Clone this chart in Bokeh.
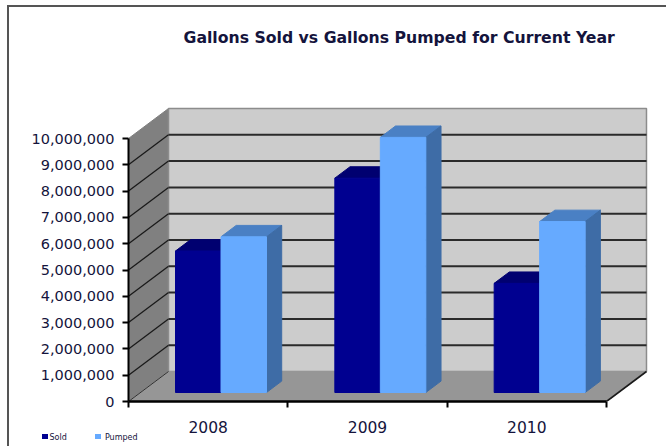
from bokeh.plotting import figure
from bokeh.models import LinearAxis, FixedTicker, Label, Range1d, Title, InlineStyleSheet
from bokeh.embed import file_html
from bokeh.resources import INLINE

years = ["2008", "2009", "2010"]
sold = [5380000, 8150000, 4150000]
pumped = [5920000, 9700000, 6500000]
y_ticks = list(range(0, 11000000, 1000000))
y_labels = ["0", "1,000,000", "2,000,000", "3,000,000", "4,000,000", "5,000,000",
            "6,000,000", "7,000,000", "8,000,000", "9,000,000", "10,000,000"]
series_names = ["Sold", "Pumped"]
title_text = "Gallons Sold vs Gallons Pumped for Current Year"

PXX = 159.33          # px per category
PXY = 26.3 / 1e6      # px per gallon
FW, FH = 538, 341
frame_css = InlineStyleSheet(css=""":host::before { content: ""; position: absolute; left: 7px; top: 5px;
  right: 0; bottom: 0; border-left: 2px solid #555555; border-top: 2px solid #555555;
  pointer-events: none; z-index: 20; }
:host::after { content: ""; position: absolute; left: 42px; top: 434px; width: 6px; height: 5px;
  background: #000090; box-shadow: 53px 0 0 #66aaff; pointer-events: none; z-index: 20; }""")
p = figure(width=666, height=446, output_backend="svg", toolbar_location=None,
           x_range=Range1d(0, FW / PXX), y_range=Range1d(0, FH / PXY),
           x_axis_type=None, y_axis_type=None,
           min_border_left=128, min_border_right=0, min_border_top=60, min_border_bottom=45,
           outline_line_color=None, background_fill_color="white", border_fill_color="white",
           stylesheets=[frame_css])
p.grid.visible = False

# oblique projection: depth d in 0..1 shifts right and up
DX = 40 / PXX
DY = 30 / PXY
def px(x, d=0.0): return x + d * DX
def py(y, d=0.0): return y + d * DY
TOP = y_ticks[-1]

# walls
p.patch([px(0), px(0, 1), px(0, 1), px(0)], [py(0), py(0, 1), py(TOP, 1), py(TOP)],
        fill_color="#808080", line_color="#808080")
p.patch([px(0, 1), px(3, 1), px(3, 1), px(0, 1)], [py(0, 1), py(0, 1), py(TOP, 1), py(TOP, 1)],
        fill_color="#cccccc", line_color="#8c8c8c", line_width=1.5)
p.patch([px(0), px(3), px(3, 1), px(0, 1)], [py(0), py(0), py(0, 1), py(0, 1)],
        fill_color="#969696", line_color="#969696")

# gridlines
for t in y_ticks[1:-1]:
    p.line([px(0), px(0, 1)], [py(t), py(t, 1)], line_color="#1a1a1a", line_width=1.3)
    p.line([px(0, 1), px(3, 1)], [py(t, 1), py(t, 1)], line_color="#2a2a2a", line_width=2)
p.line([px(3), px(3, 1)], [py(0), py(0, 1)], line_color="#1a1a1a", line_width=1.6)
p.line([px(0), px(0, 1)], [py(0), py(0, 1)], line_color="#333333", line_width=1)

# bars
D0, D1 = 0.3, 0.68
BW = 45.5 / PXX
OFF = (175 - 140) / PXX
colors = [("#000090", "#000070", "#000060"), ("#66aaff", "#4a80c4", "#3e6ca6")]
for i, vals in enumerate([sold, pumped]):
    c_front, c_top, c_side = colors[i]
    for j, v in enumerate(vals):
        x0 = j + OFF + i * BW
        x1 = x0 + BW
        xs0, xs1 = px(x0, D0), px(x1, D0)
        b, t = py(0, D0), py(v, D0)
        dd = D1 - D0
        p.patch([xs0, xs1, xs1 + dd * DX, xs0 + dd * DX], [t, t, t + dd * DY, t + dd * DY],
                fill_color=c_top, line_color=c_top)
        p.patch([xs1, xs1 + dd * DX, xs1 + dd * DX, xs1], [b, b + dd * DY, t + dd * DY, t],
                fill_color=c_side, line_color=c_side)
        p.quad(left=xs0, right=xs1, bottom=b, top=t, fill_color=c_front, line_color=c_front)

# axes
ax_y = LinearAxis(ticker=FixedTicker(ticks=y_ticks), bounds=(0, TOP),
                  major_label_overrides={t: l for t, l in zip(y_ticks, y_labels)})
ax_y.axis_line_color = "black"; ax_y.axis_line_width = 2
ax_y.major_tick_line_color = "black"; ax_y.major_tick_line_width = 2
ax_y.major_tick_in = 0; ax_y.major_tick_out = 6; ax_y.minor_tick_line_color = None
ax_y.major_label_text_font = "DejaVu Sans"; ax_y.major_label_text_font_size = "14.5px"
ax_y.major_label_text_color = "#14143c"; ax_y.major_label_standoff = 8
p.add_layout(ax_y, "left")

ax_x = LinearAxis(ticker=FixedTicker(ticks=[0.5, 1.5, 2.5], minor_ticks=[0, 1, 2, 3]), bounds=(0, 3),
                  major_label_overrides={j + 0.5: y for j, y in enumerate(years)})
ax_x.axis_line_color = "black"; ax_x.axis_line_width = 2.5
ax_x.major_tick_line_color = None
ax_x.minor_tick_line_color = "black"; ax_x.minor_tick_line_width = 2
ax_x.minor_tick_in = 0; ax_x.minor_tick_out = 6
ax_x.major_label_text_font = "DejaVu Sans"; ax_x.major_label_text_font_size = "15.5px"
ax_x.major_label_text_color = "#14143c"; ax_x.major_label_standoff = 13
p.add_layout(ax_x, "below")

p.add_layout(Title(text=title_text, text_font="DejaVu Sans", text_font_size="15.7px",
                   text_font_style="bold", text_color="#14143c", align="left",
                   offset=55, standoff=27), "above")

# legend text: one row in the panel below the frame, outside the frame's clip
p.add_layout(Label(x=-79, y=3, x_units="screen", y_units="screen",
                   text=("\u00a0" * 15).join(series_names),
                   text_font_size="8px", text_color="#14143c",
                   text_font="DejaVu Sans", text_baseline="bottom"), "below")

open("out.html", "w").write(file_html(p, INLINE))
